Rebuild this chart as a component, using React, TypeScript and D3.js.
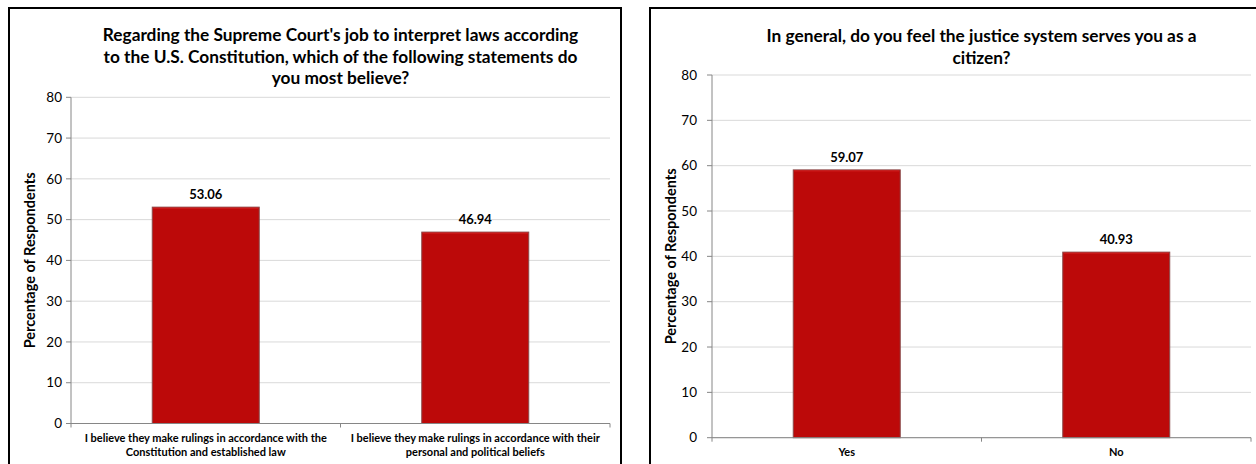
import React from "react";
import * as d3 from "d3";

// ---------- data ----------
const chart1Title = [
  "Regarding the Supreme Court's job to interpret laws according",
  "to the U.S. Constitution, which of the following statements do",
  "you most believe?",
];
const chart1Categories = [
  ["I believe they make rulings in accordance with the", "Constitution and established law"],
  ["I believe they make rulings in accordance with their", "personal and political beliefs"],
];
const chart1Values = [53.06, 46.94];

const chart2Title = ["In general, do you feel the justice system serves you as a", "citizen?"];
const chart2Categories = [["Yes"], ["No"]];
const chart2Values = [59.07, 40.93];

const yTicks = [0, 10, 20, 30, 40, 50, 60, 70, 80];
const yAxisTitle = "Percentage of Respondents";

const FONT = "Lato, 'Open Sans', sans-serif";

type PanelProps = {
  frame: { x: number; y: number; w: number; h: number };
  plot: { left: number; right: number; top: number; bottom: number };
  title: string[];
  titleY: number;
  categories: string[][];
  values: number[];
  tickGap: number;
};

function Panel({ frame, plot, title, titleY, categories, values, tickGap }: PanelProps) {
  const y = d3.scaleLinear().domain([0, 80]).range([plot.bottom, plot.top]);
  const keys = categories.map((c) => c.join(" "));
  const cat = d3.scaleBand<string>().domain(keys).range([plot.left, plot.right]).padding(0);
  const barFrac = 0.397;
  const bw = cat.bandwidth() * barFrac;
  const cx = (plot.left + plot.right) / 2;
  const boundaries = d3.range(keys.length + 1).map((i) => plot.left + i * cat.step());
  const titleX = plot.left - 41;

  return (
    <g>
      <rect x={frame.x} y={frame.y} width={frame.w} height={frame.h} fill="#fff" stroke="#000" strokeWidth={2} />
      {/* title */}
      <text fontFamily={FONT} fontWeight="bold" fontSize={17.3} fill="#000" textAnchor="middle">
        {title.map((t, i) => (
          <tspan key={i} x={cx} y={titleY + i * 21.5}>
            {t}
          </tspan>
        ))}
      </text>
      {/* gridlines */}
      {yTicks.map((t) => (
        <line key={t} x1={plot.left} x2={plot.right} y1={y(t)} y2={y(t)} stroke="#d9d9d9" strokeWidth={1} />
      ))}
      {/* y axis */}
      <line x1={plot.left} x2={plot.left} y1={y(80)} y2={y(0)} stroke="#868686" strokeWidth={1} />
      {yTicks.map((t) => (
        <g key={"t" + t}>
          <line x1={plot.left - 5} x2={plot.left} y1={y(t)} y2={y(t)} stroke="#868686" />
          <text
            x={plot.left - tickGap}
            y={y(t)}
            dy="0.35em"
            textAnchor="end"
            fontFamily={FONT}
            fontSize={13.5}
            fill="#000"
          >
            {t}
          </text>
        </g>
      ))}
      <text
        transform={`translate(${titleX},${(plot.top + plot.bottom) / 2}) rotate(-90)`}
        textAnchor="middle"
        dy="0.35em"
        fontFamily={FONT}
        fontWeight="bold"
        fontSize={14.5}
        fill="#000"
      >
        {yAxisTitle}
      </text>
      {/* bars */}
      {keys.map((k, i) => {
        const x0 = (cat(k) as number) + (cat.bandwidth() - bw) / 2;
        const yv = y(values[i]);
        return (
          <g key={k}>
            <rect x={x0} y={yv} width={bw} height={y(0) - yv} fill="#BC0909" stroke="#8a4a4a" strokeWidth={1} />
            <line x1={x0 + 1} x2={x0 + bw - 1} y1={yv + 1} y2={yv + 1} stroke="#d32020" strokeWidth={1} />
            <text
              x={x0 + bw / 2}
              y={yv - 8}
              textAnchor="middle"
              fontFamily={FONT}
              fontWeight="bold"
              fontSize={13}
              fill="#000"
            >
              {values[i].toFixed(2)}
            </text>
          </g>
        );
      })}
      {/* x axis */}
      <line x1={plot.left} x2={plot.right} y1={y(0)} y2={y(0)} stroke="#868686" strokeWidth={1} />
      {boundaries.map((b, i) => (
        <line key={"b" + i} x1={b} x2={b} y1={y(0)} y2={y(0) + 4} stroke="#868686" />
      ))}
      {categories.map((lines, i) => (
        <text
          key={"c" + i}
          textAnchor="middle"
          fontFamily={FONT}
          fontWeight="bold"
          fontSize={11}
          fill="#000"
        >
          {lines.map((l, j) => (
            <tspan key={j} x={(cat(keys[i]) as number) + cat.bandwidth() / 2} y={y(0) + 18.5 + j * 14}>
              {l}
            </tspan>
          ))}
        </text>
      ))}
    </g>
  );
}

export default function App() {
  return (
    <svg
      width={1256}
      height={464}
      style={{ position: "absolute", left: 0, top: 0, display: "block", background: "#fff" }}
    >
      <rect x={0} y={0} width={1256} height={464} fill="#fff" />
      <Panel
        frame={{ x: 9, y: 8, w: 612, h: 480 }}
        plot={{ left: 71, right: 610, top: 97.3, bottom: 423.5 }}
        title={chart1Title}
        titleY={41}
        categories={chart1Categories}
        values={chart1Values}
        tickGap={9}
      />
      <Panel
        frame={{ x: 650, y: 8, w: 640, h: 480 }}
        plot={{ left: 712, right: 1251, top: 75, bottom: 437.7 }}
        title={chart2Title}
        titleY={42}
        categories={chart2Categories}
        values={chart2Values}
        tickGap={15}
      />
    </svg>
  );
}
